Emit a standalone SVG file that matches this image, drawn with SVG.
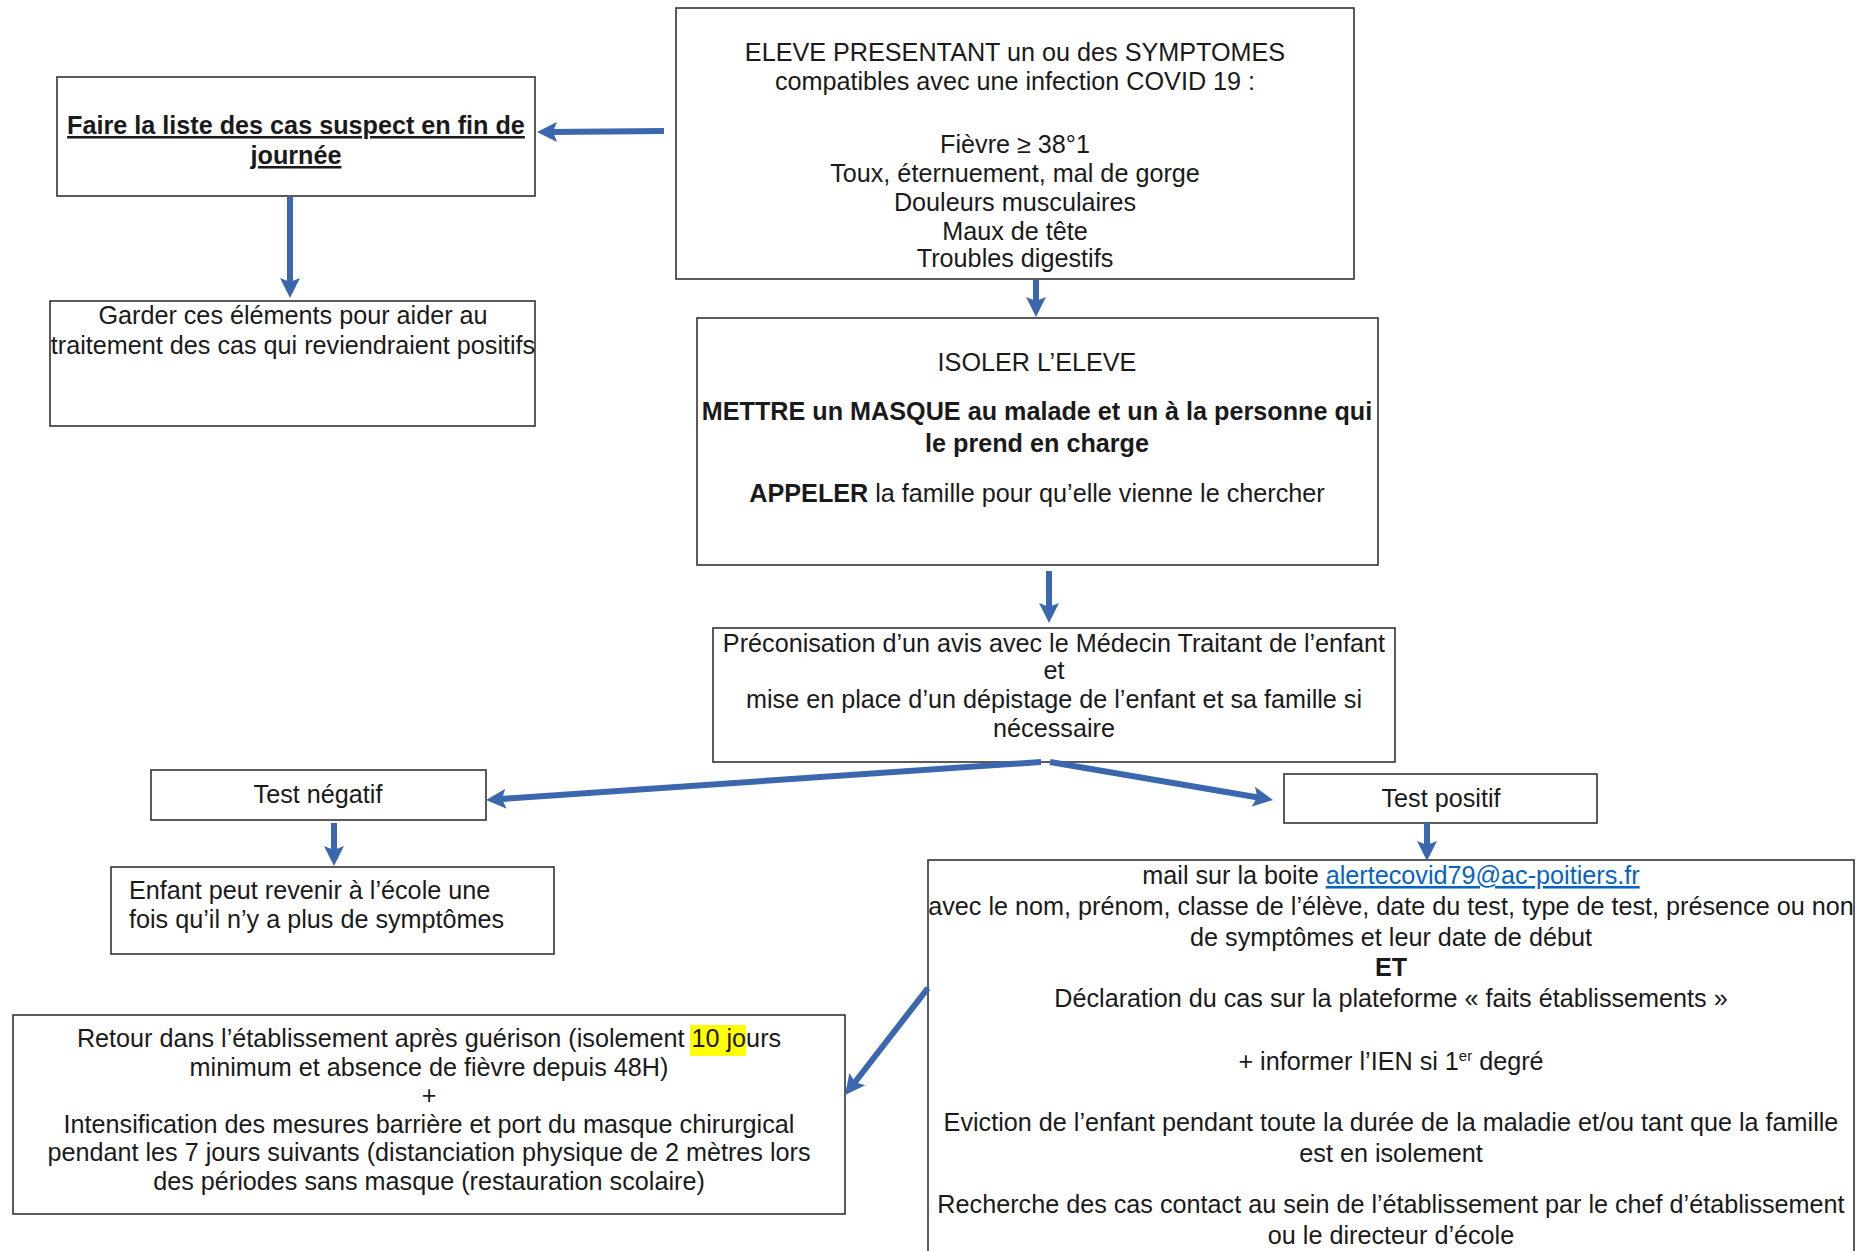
<svg xmlns="http://www.w3.org/2000/svg" width="1876" height="1251" viewBox="0 0 1876 1251">
<style>
  .box { fill: #ffffff; stroke: #333333; stroke-width: 1.6; }
  .t { font-family: "Liberation Sans", Arial, sans-serif; font-size: 25.2px; fill: #1a1a1a; text-anchor: middle; }
  .l { text-anchor: start; }
  .b { font-weight: bold; }
  .u { text-decoration: underline; }
  .lnk { fill: #0563C1; text-decoration: underline; }
  .conn { stroke: #3A67AE; stroke-width: 6; fill: none; marker-end: url(#ah); }
</style>
<defs>
  <marker id="ah" markerUnits="userSpaceOnUse" markerWidth="22" markerHeight="22" viewBox="0 0 22 22" refX="8" refY="11" orient="auto">
    <path d="M0,1 L20,11 L0,21 L4,11 z" fill="#3A67AE"/>
  </marker>
</defs>
<rect width="1876" height="1251" fill="#ffffff"/>

<g id="symptomes">
  <rect class="box" x="676" y="8" width="678" height="271"/>
  <text class="t" x="1015" y="61">ELEVE PRESENTANT un ou des SYMPTOMES</text>
  <text class="t" x="1015" y="90">compatibles avec une infection COVID 19 :</text>
  <text class="t" x="1015" y="153">Fièvre ≥ 38°1</text>
  <text class="t" x="1015" y="182">Toux, éternuement, mal de gorge</text>
  <text class="t" x="1015" y="211">Douleurs musculaires</text>
  <text class="t" x="1015" y="240">Maux de tête</text>
  <text class="t" x="1015" y="267">Troubles digestifs</text>
</g>

<g id="liste">
  <rect class="box" x="57" y="77" width="478" height="119"/>
  <text class="t b u" x="296" y="134">Faire la liste des cas suspect en fin de</text>
  <text class="t b u" x="296" y="164">journée</text>
</g>

<g id="garder">
  <rect class="box" x="50" y="301" width="485" height="125"/>
  <text class="t" x="293" y="324">Garder ces éléments pour aider au</text>
  <text class="t" x="293" y="354">traitement des cas qui reviendraient positifs</text>
</g>

<g id="isoler">
  <rect class="box" x="697" y="318" width="681" height="247"/>
  <text class="t" x="1037" y="371">ISOLER L’ELEVE</text>
  <text class="t b" x="1037" y="420">METTRE un MASQUE au malade et un à la personne qui</text>
  <text class="t b" x="1037" y="452">le prend en charge</text>
  <text class="t" x="1037" y="502"><tspan class="b">APPELER</tspan> la famille pour qu’elle vienne le chercher</text>
</g>

<g id="preconisation">
  <rect class="box" x="713" y="628" width="682" height="134"/>
  <text class="t" x="1054" y="652">Préconisation d’un avis avec le Médecin Traitant de l’enfant</text>
  <text class="t" x="1054" y="679">et</text>
  <text class="t" x="1054" y="708">mise en place d’un dépistage de l’enfant et sa famille si</text>
  <text class="t" x="1054" y="737">nécessaire</text>
</g>

<g id="negatif">
  <rect class="box" x="151" y="770" width="335" height="50"/>
  <text class="t" x="318" y="803">Test négatif</text>
</g>

<g id="positif">
  <rect class="box" x="1284" y="774" width="313" height="49"/>
  <text class="t" x="1441" y="807">Test positif</text>
</g>

<g id="enfant">
  <rect class="box" x="111" y="867" width="443" height="87"/>
  <text class="t l" x="129" y="899">Enfant peut revenir à l’école une</text>
  <text class="t l" x="129" y="928">fois qu’il n’y a plus de symptômes</text>
</g>

<g id="retour">
  <rect class="box" x="13" y="1015" width="832" height="199"/>
  <rect x="690" y="1025" width="56" height="31" fill="#FFFF00"/>
  <text class="t" x="429" y="1047">Retour dans l’établissement après guérison (isolement 10 jours</text>
  <text class="t" x="429" y="1076">minimum et absence de fièvre depuis 48H)</text>
  <text class="t" x="429" y="1104">+</text>
  <text class="t" x="429" y="1133">Intensification des mesures barrière et port du masque chirurgical</text>
  <text class="t" x="429" y="1161">pendant les 7 jours suivants (distanciation physique de 2 mètres lors</text>
  <text class="t" x="429" y="1190">des périodes sans masque (restauration scolaire)</text>
</g>

<g id="mail">
  <rect class="box" x="928" y="860" width="926" height="410"/>
  <text class="t" x="1391" y="884">mail sur la boite <tspan class="lnk">alertecovid79@ac-poitiers.fr</tspan></text>
  <text class="t" x="1391" y="915">avec le nom, prénom, classe de l’élève, date du test, type de test, présence ou non</text>
  <text class="t" x="1391" y="946">de symptômes et leur date de début</text>
  <text class="t b" x="1391" y="976">ET</text>
  <text class="t" x="1391" y="1007">Déclaration du cas sur la plateforme « faits établissements »</text>
  <text class="t" x="1391" y="1070">+ informer l’IEN si 1<tspan font-size="15" dy="-9">er</tspan><tspan dy="9"> degré</tspan></text>
  <text class="t" x="1391" y="1131">Eviction de l’enfant pendant toute la durée de la maladie et/ou tant que la famille</text>
  <text class="t" x="1391" y="1162">est en isolement</text>
  <text class="t" x="1391" y="1213">Recherche des cas contact au sein de l’établissement par le chef d’établissement</text>
  <text class="t" x="1391" y="1244">ou le directeur d’école</text>
</g>

<g id="connectors">
  <line class="conn" x1="664" y1="131" x2="549" y2="132"/>
  <line class="conn" x1="290" y1="197" x2="290" y2="286"/>
  <line class="conn" x1="1036" y1="280" x2="1036" y2="305"/>
  <line class="conn" x1="1049" y1="571" x2="1049" y2="611"/>
  <line class="conn" x1="1041" y1="762" x2="498" y2="799.2"/>
  <line class="conn" x1="1050" y1="762" x2="1261.2" y2="798"/>
  <line class="conn" x1="334" y1="823" x2="334" y2="854"/>
  <line class="conn" x1="1427" y1="823" x2="1427" y2="849"/>
  <line class="conn" x1="928" y1="988" x2="852.4" y2="1085.5"/>
</g>
</svg>
